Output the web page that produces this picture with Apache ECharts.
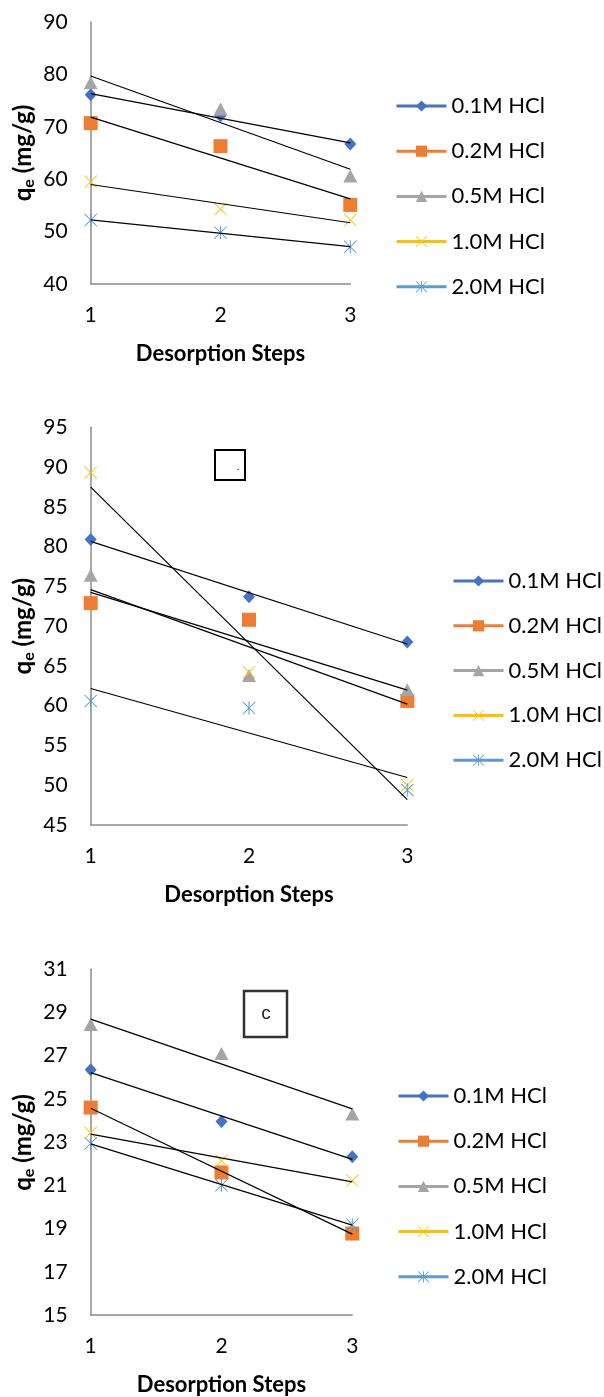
<!DOCTYPE html>
<html><head><meta charset="utf-8">
<script src="https://cdn.jsdelivr.net/npm/echarts@6/dist/echarts.min.js"></script>
<style>html,body{margin:0;padding:0;background:#fff}#c{width:604px;height:1397px}</style>
</head><body><div id="c"></div>
<script>
const steps = [1, 2, 3];
const seriesNames = ['0.1M HCl', '0.2M HCl', '0.5M HCl', '1.0M HCl', '2.0M HCl'];
const xTicks = [1, 2, 3];
const yTicksA = [40, 50, 60, 70, 80, 90];
const yTicksB = [45, 50, 55, 60, 65, 70, 75, 80, 85, 90, 95];
const yTicksC = [15, 17, 19, 21, 23, 25, 27, 29, 31];

// chart (a)
const a01 = [76.1, 72.1, 66.7];
const a02 = [70.7, 66.3, 55.1];
const a05 = [78.4, 73.4, 60.6];
const a10 = [59.5, 54.3, 52.2];
const a20 = [52.2, 49.8, 47.1];
// chart (b)
const b01 = [80.9, 73.7, 68.0];
const b02 = [72.9, 70.8, 60.6];
const b05 = [76.4, 63.8, 62.0];
const b10 = [89.3, 64.2, 50.0];
const b20 = [60.6, 59.7, 49.4];
// chart (c)
const c01 = [26.35, 23.95, 22.33];
const c02 = [24.6, 21.6, 18.77];
const c05 = [28.45, 27.1, 24.3];
const c10 = [23.43, 22.14, 21.22];
const c20 = [22.94, 21.0, 19.18];

const colors = ['#4472C4', '#ED7D31', '#A5A5A5', '#FFC000', '#5B9BD5'];
const xPath = 'path://M0,5 L5,0 L50,45 L95,0 L100,5 L55,50 L100,95 L95,100 L50,55 L5,100 L0,95 L45,50 Z';
const starPath = 'path://M0,5 L5,0 L50,45 L95,0 L100,5 L55,50 L100,95 L95,100 L50,55 L5,100 L0,95 L45,50 Z M46,0 L54,0 L54,100 L46,100 Z';
const symbols = ['diamond', 'rect', 'triangle', xPath, starPath];
const symSizes = [[12, 13], 14, [14, 13], 13, 13];

const FONT = 'Lato, "Open Sans", sans-serif';
const axisColor = '#8C8C8C';
const yTitle = '{b|q}{s|e}{b| (mg/g)}';

const groups = [
  { data: [a01, a02, a05, a10, a20], ticks: yTicksA, top: 22, height: 262, left: 90.7, right: 253.7,
    legend: { left: 395, top: 95, gap: 23.2 } },
  { data: [b01, b02, b05, b10, b20], ticks: yTicksB, top: 427.3, height: 397.7, left: 90.7, right: 196.7,
    legend: { left: 452, top: 570, gap: 22.8 } },
  { data: [c01, c02, c05, c10, c20], ticks: yTicksC, top: 969.3, height: 346.4, left: 90.7, right: 251.7,
    legend: { left: 397, top: 1085, gap: 23.2 } }
];

function fit(ys) {
  const n = ys.length;
  const mx = steps.reduce((s, v) => s + v, 0) / n;
  const my = ys.reduce((s, v) => s + v, 0) / n;
  let num = 0, den = 0;
  for (let i = 0; i < n; i++) { num += (steps[i] - mx) * (ys[i] - my); den += (steps[i] - mx) ** 2; }
  const b = num / den, a = my - b * mx;
  const x0 = steps[0], x1 = steps[n - 1];
  return [[x0, a + b * x0], [x1, a + b * x1]];
}

const grid = [], xAxis = [], yAxis = [], series = [], legend = [], titles = [];
groups.forEach((g, gi) => {
  grid.push({ left: g.left, right: g.right, top: g.top, height: g.height, containLabel: false });
  xAxis.push({
    type: 'value', gridIndex: gi, min: xTicks[0], max: xTicks[xTicks.length - 1], interval: 1,
    name: 'Desorption Steps', nameLocation: 'middle', nameGap: 59,
    nameTextStyle: { fontFamily: FONT, fontWeight: 'bold', fontSize: 22, color: '#000' },
    axisLine: { show: true, onZero: false, lineStyle: { color: axisColor, width: 1.5 } },
    axisTick: { show: false }, splitLine: { show: false },
    axisLabel: { fontFamily: FONT, fontSize: 21, color: '#000', margin: 21 }
  });
  yAxis.push({
    type: 'value', gridIndex: gi, min: g.ticks[0], max: g.ticks[g.ticks.length - 1],
    interval: g.ticks[1] - g.ticks[0],
    axisLine: { show: true, onZero: false, lineStyle: { color: axisColor, width: 1.5 } },
    axisTick: { show: false }, splitLine: { show: false },
    axisLabel: { fontFamily: FONT, fontSize: 21, color: '#000', margin: 23 }
  });
  titles.push({
    type: 'text', x: 23, y: g.top + g.height / 2, rotation: Math.PI / 2,
    style: {
      text: yTitle, align: 'center', verticalAlign: 'middle', fill: '#000',
      rich: {
        b: { fontFamily: FONT, fontWeight: 'bold', fontSize: 24, fill: '#000', lineHeight: 28, verticalAlign: 'middle' },
        s: { fontFamily: FONT, fontWeight: 'bold', fontSize: 16, fill: '#000', lineHeight: 16, verticalAlign: 'bottom' }
      }
    }
  });
  g.data.forEach((ys, si) => {
    series.push({
      type: 'line', name: seriesNames[si], xAxisIndex: gi, yAxisIndex: gi,
      data: steps.map((x, i) => [x, ys[i]]),
      symbol: symbols[si], symbolSize: symSizes[si],
      itemStyle: { color: colors[si] },
      lineStyle: { color: colors[si], opacity: 0, width: 3 },
      emphasis: { disabled: true }, z: 3
    });
  });
  g.data.forEach((ys, si) => {
    series.push({
      type: 'line', name: 'trend' + gi + si, xAxisIndex: gi, yAxisIndex: gi,
      data: fit(ys), symbol: 'none', silent: true,
      lineStyle: { color: '#000', width: 1.2 }, z: 4
    });
  });
  legend.push({
    orient: 'vertical', left: g.legend.left, top: g.legend.top, itemGap: g.legend.gap, padding: 0,
    itemWidth: 50, itemHeight: 14, data: seriesNames, selectedMode: false,
    lineStyle: { width: 3, opacity: 1 },
    textStyle: { fontFamily: FONT, fontSize: 22, color: '#000', lineHeight: 22, padding: [0, 0, 0, 0] }
  });
});

const chart = echarts.init(document.getElementById('c'), null, { renderer: 'canvas' });
chart.setOption({
  animation: false,
  backgroundColor: '#fff',
  grid, xAxis, yAxis, series, legend,
  graphic: titles.concat([
    { type: 'rect', shape: { x: 215, y: 450, width: 30, height: 30 }, style: { fill: 'none', stroke: '#000', lineWidth: 2 } },
    { type: 'text', x: 237, y: 462, style: { text: '.', fontSize: 10, fill: '#000', fontFamily: FONT } },
    { type: 'rect', shape: { x: 244, y: 991, width: 43, height: 46 }, style: { fill: 'none', stroke: '#333', lineWidth: 2.5 } },
    { type: 'text', x: 266, y: 1014, style: { text: 'c', fontSize: 19, fill: '#222', fontFamily: 'Liberation Sans, sans-serif', align: 'center', verticalAlign: 'middle' } }
  ])
});
</script>
</body></html>
